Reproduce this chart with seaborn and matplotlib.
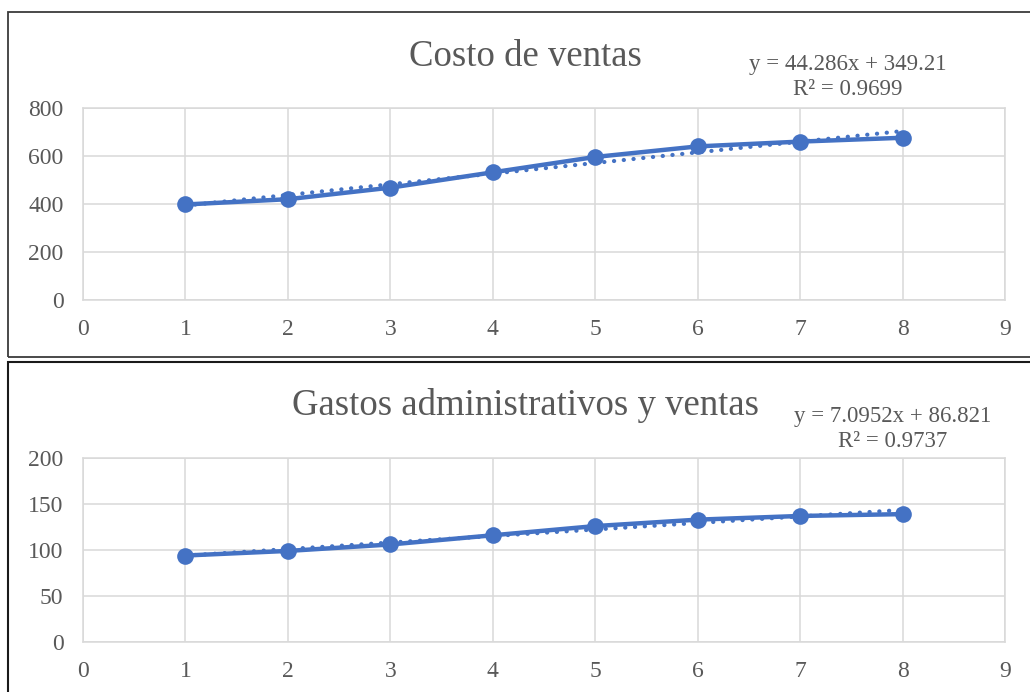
import matplotlib
matplotlib.use("Agg")
import matplotlib.pyplot as plt
import seaborn as sns
import numpy as np
import pandas as pd
from matplotlib.patches import Rectangle

# ---- data ----
periods = [1, 2, 3, 4, 5, 6, 7, 8]
costo_ventas = [398, 420, 468, 532, 596, 640, 660, 676]
gastos_admin = [94, 99, 106, 116, 126, 133, 137, 139]
titles = ["Costo de ventas", "Gastos administrativos y ventas"]
equations = ["y = 44.286x + 349.21\nR² = 0.9699", "y = 7.0952x + 86.821\nR² = 0.9737"]
x_ticks = [0, 1, 2, 3, 4, 5, 6, 7, 8, 9]
y_ticks_top = [0, 200, 400, 600, 800]
y_ticks_bot = [0, 50, 100, 150, 200]

sns.set_theme(style="white")
plt.rcParams["font.family"] = ["Liberation Serif", "DejaVu Serif"]

W, H = 1030, 692
fig = plt.figure(figsize=(W / 100, H / 100), dpi=100)

BLUE = "#4472C4"
GRID = "#d9d9d9"
TXT = "#595959"

def px_axes(left, right, top, bottom):
    return fig.add_axes([left / W, 1 - bottom / H, (right - left) / W, (bottom - top) / H])

# panel borders
fig.patches.append(Rectangle((8 / W, 1 - 357 / H), 1.2, (357 - 12) / H, transform=fig.transFigure,
                             fill=False, edgecolor="#3a3a3a", linewidth=1.3, zorder=0))
fig.patches.append(Rectangle((8 / W, 1 - 720 / H), 1.2, (720 - 362) / H, transform=fig.transFigure,
                             fill=False, edgecolor="#1a1a1a", linewidth=1.5, zorder=0))

specs = [
    dict(y=costo_ventas, yt=y_ticks_top, box=(83, 1005, 108, 300), title_y=57, eq_xy=(848, 77)),
    dict(y=gastos_admin, yt=y_ticks_bot, box=(83, 1005, 458, 642), title_y=405, eq_xy=(893, 429)),
]

for i, sp in enumerate(specs):
    ax = px_axes(*sp["box"])
    df = pd.DataFrame({"x": periods, "y": sp["y"]})
    sns.regplot(data=df, x="x", y="y", ax=ax, scatter=False, ci=None, truncate=True,
                line_kws=dict(color=BLUE, linewidth=3.0, linestyle=(0, (0.05, 2.3)),
                              dash_capstyle="round", zorder=3))
    sns.lineplot(data=df, x="x", y="y", ax=ax, color=BLUE, linewidth=3.2, marker="o",
                 markersize=12, markeredgewidth=0, zorder=4)
    ax.set_xlim(0, 9)
    ax.set_ylim(sp["yt"][0], sp["yt"][-1])
    ax.set_xticks(x_ticks)
    ax.set_yticks(sp["yt"])
    ax.grid(True, color=GRID, linewidth=1.1)
    ax.set_axisbelow(True)
    for s in ax.spines.values():
        s.set_color(GRID)
        s.set_linewidth(1.1)
    ax.tick_params(axis="both", length=0, labelsize=17, labelcolor=TXT)
    ax.tick_params(axis="x", pad=14)
    ax.tick_params(axis="y", pad=14)
    ax.set_xlabel("")
    ax.set_ylabel("")
    fig.text(525 / W, 1 - sp["title_y"] / H, titles[i], ha="center", va="center",
             fontsize=26.5, color=TXT)
    ex, ey = sp["eq_xy"]
    fig.text(ex / W, 1 - ey / H, equations[i], ha="center", va="center",
             fontsize=16.5, color=TXT, linespacing=1.25)

fig.savefig("out.png", dpi=100)
